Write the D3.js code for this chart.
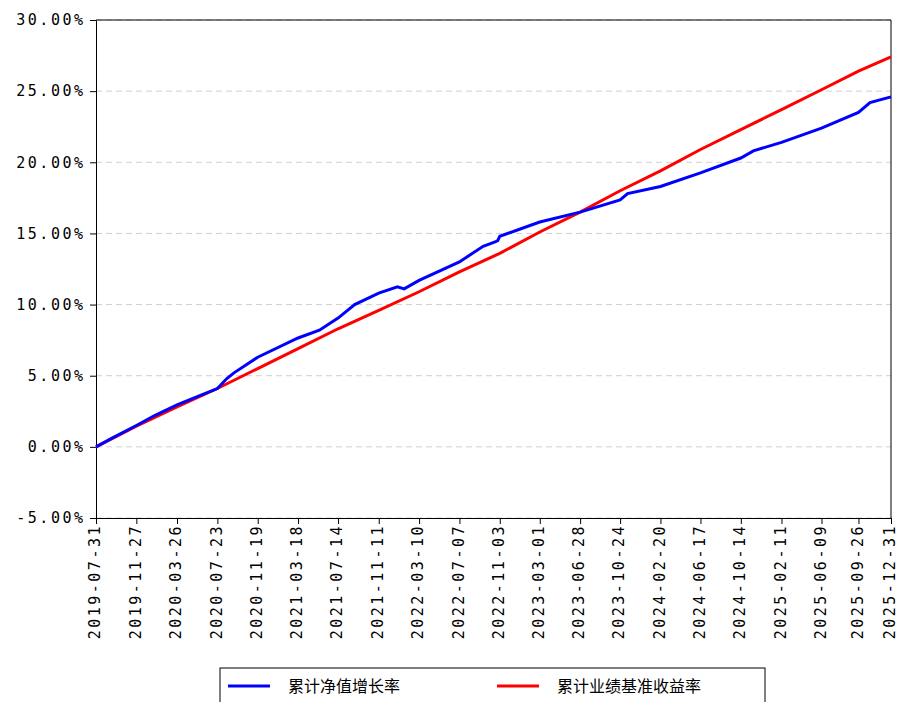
<!DOCTYPE html>
<html><head><meta charset="utf-8">
<script src="https://cdn.jsdelivr.net/npm/d3@7"></script>
<style>body{margin:0;background:#fff}</style>
</head><body>
<div id="chart"></div>
<script>
const tickDates = ['2019-07-31','2019-11-27','2020-03-26','2020-07-23','2020-11-19','2021-03-18','2021-07-14','2021-11-11','2022-03-10','2022-07-07','2022-11-03','2023-03-01','2023-06-28','2023-10-24','2024-02-20','2024-06-17','2024-10-14','2025-02-11','2025-06-09','2025-09-26','2025-12-31']
const navDates = ['2019-07-31','2019-09-15','2019-11-27','2020-01-20','2020-03-26','2020-06-01','2020-07-23','2020-08-20','2020-09-10','2020-11-19','2021-03-18','2021-05-20','2021-07-14','2021-09-01','2021-11-11','2022-01-05','2022-01-25','2022-03-10','2022-07-07','2022-09-15','2022-10-20','2022-10-28','2022-11-03','2023-03-01','2023-06-28','2023-10-24','2023-11-15','2024-02-20','2024-06-17','2024-10-14','2024-11-20','2025-02-11','2025-06-09','2025-09-26','2025-10-30','2025-12-31']
const navValues = [0,0.6,1.5,2.2,2.95,3.6,4.1,4.8,5.2,6.3,7.65,8.2,9.05,10.0,10.8,11.25,11.1,11.7,13.0,14.1,14.4,14.5,14.8,15.8,16.5,17.35,17.8,18.3,19.25,20.3,20.8,21.4,22.4,23.5,24.2,24.6]
const benchDates = ['2019-07-31','2019-11-27','2020-03-26','2020-07-23','2020-11-19','2021-03-18','2021-07-14','2021-11-11','2022-03-10','2022-07-07','2022-11-03','2023-03-01','2023-06-28','2023-10-24','2024-02-20','2024-06-17','2024-10-14','2025-02-11','2025-06-09','2025-09-26','2025-12-31']
const benchValues = [0,1.45,2.8,4.1,5.5,6.9,8.3,9.6,10.9,12.3,13.6,15.1,16.5,18.0,19.4,20.9,22.3,23.7,25.1,26.4,27.4]
const yTicks = [-5,0,5,10,15,20,25,30]

const W = 900, H = 702
const m = {left: 96, right: 891, top: 20, bottom: 518}
const parse = d3.timeParse('%Y-%m-%d')
const svg = d3.select('#chart').append('svg').attr('width', W).attr('height', H)
  .style('font-family', '"Noto Sans CJK SC", sans-serif')

const x = d3.scaleTime().domain([parse(tickDates[0]), parse(tickDates[tickDates.length - 1])]).range([m.left, m.right])
const y = d3.scaleLinear().domain([-5, 30]).range([m.bottom, m.top])

// grid
svg.append('g').selectAll('line').data(yTicks).enter().append('line')
  .attr('x1', m.left).attr('x2', m.right).attr('y1', d => y(d)).attr('y2', d => y(d))
  .attr('stroke', '#d0d0d0').attr('stroke-dasharray', '6,4')

const tickFont = '"DejaVu Sans Mono", monospace'
const yAxis = svg.append('g').attr('transform', `translate(${m.left},0)`)
  .call(d3.axisLeft(y).tickValues(yTicks).tickFormat(d => d.toFixed(2) + '%').tickSizeOuter(0))
yAxis.selectAll('text').attr('font-size', 15).attr('fill', '#000')
  .style('font-family', tickFont).style('letter-spacing', '2.5px').attr('dx', '-0.1em')

const xAxis = svg.append('g').attr('transform', `translate(0,${m.bottom})`)
  .call(d3.axisBottom(x).tickValues(tickDates.map(parse)).tickFormat(d3.timeFormat('%Y-%m-%d')).tickSizeOuter(0))
xAxis.selectAll('text').attr('font-size', 15).attr('fill', '#000')
  .style('font-family', tickFont).style('letter-spacing', '2.5px')
  .attr('transform', 'rotate(-90)').attr('text-anchor', 'end').attr('dx', '-0.4em').attr('dy', '-0.35em')
svg.selectAll('.domain').attr('stroke', '#000')
// right and top spines
svg.append('line').attr('x1', m.right).attr('x2', m.right).attr('y1', m.top).attr('y2', m.bottom).attr('stroke', '#000')
svg.append('line').attr('x1', m.left).attr('x2', m.right).attr('y1', m.top).attr('y2', m.top).attr('stroke', '#000')

const line = d3.line().x(d => x(d[0])).y(d => y(d[1]))
svg.append('path').datum(benchDates.map((d, i) => [parse(d), benchValues[i]]))
  .attr('d', line).attr('fill', 'none').attr('stroke', '#ff0000').attr('stroke-width', 3)
svg.append('path').datum(navDates.map((d, i) => [parse(d), navValues[i]]))
  .attr('d', line).attr('fill', 'none').attr('stroke', '#0000ff').attr('stroke-width', 3)

// legend
const lg = svg.append('g')
lg.append('rect').attr('x', 220).attr('y', 668).attr('width', 545).attr('height', 40)
  .attr('fill', '#fff').attr('stroke', '#000')
const items = [['累计净值增长率', '#0000ff', 228], ['累计业绩基准收益率', '#ff0000', 497]]
items.forEach(([t, c, lx]) => {
  lg.append('line').attr('x1', lx).attr('x2', lx + 42).attr('y1', 686).attr('y2', 686).attr('stroke', c).attr('stroke-width', 3)
  lg.append('text').attr('x', lx + 60).attr('y', 692).attr('font-size', 16).text(t)
})
</script>
</body></html>
